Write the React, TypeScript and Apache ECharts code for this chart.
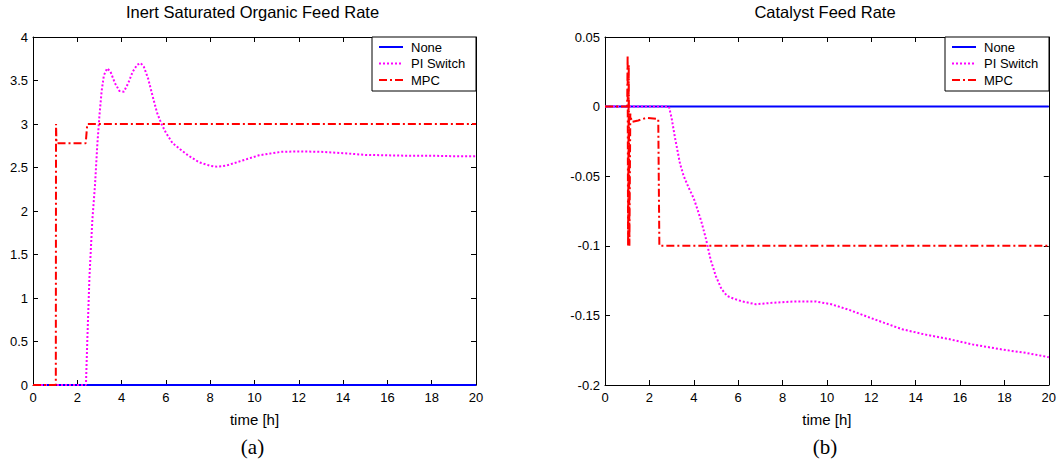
import React, { useEffect, useRef } from "react";
import * as echarts from "echarts";

// ---- data ----
const seriesNames = ["None", "PI Switch", "MPC"];
const xTicks = { min: 0, max: 20, interval: 2 };

// (a) Inert Saturated Organic Feed Rate
const noneA: number[][] = [[0, 0], [20, 0]];
const piA: number[][] = [
  [0, 0], [2.39, 0], [2.45, 0.5], [2.55, 1.25], [2.68, 1.9], [2.8, 2.3], [2.9, 2.75],
  [3.0, 3.1], [3.1, 3.38], [3.2, 3.56], [3.35, 3.64], [3.5, 3.6], [3.7, 3.47], [3.9, 3.38],
  [4.1, 3.37], [4.3, 3.47], [4.5, 3.6], [4.7, 3.68], [4.86, 3.7], [5.0, 3.66], [5.2, 3.52],
  [5.4, 3.32], [5.6, 3.13], [5.8, 3.0], [6.0, 2.9], [6.3, 2.78], [6.64, 2.71], [7.0, 2.64],
  [7.5, 2.56], [8.0, 2.52], [8.3, 2.51], [8.7, 2.52], [9.2, 2.56], [9.7, 2.6], [10.2, 2.64],
  [10.7, 2.66], [11.2, 2.68], [12.0, 2.685], [13.0, 2.68], [14.0, 2.665], [15.0, 2.645],
  [16.0, 2.64], [17.0, 2.635], [18.0, 2.635], [19.0, 2.63], [20, 2.63],
];
const mpcA: number[][] = [
  [0, 0], [1.03, 0], [1.04, 3.0], [1.06, 2.78], [2.38, 2.78], [2.45, 3.0], [20, 3.0],
];

// (b) Catalyst Feed Rate
const noneB: number[][] = [[0, 0], [20, 0]];
const piB: number[][] = [
  [0, 0], [2.88, 0], [3.0, -0.008], [3.15, -0.022], [3.38, -0.041], [3.55, -0.05],
  [3.75, -0.0575], [4.0, -0.066], [4.13, -0.072], [4.35, -0.083], [4.55, -0.095],
  [4.76, -0.11], [5.0, -0.122], [5.25, -0.131], [5.5, -0.136], [5.8, -0.138], [6.2, -0.14],
  [6.8, -0.142], [7.5, -0.141], [8.5, -0.14], [9.5, -0.14], [10.2, -0.142], [11, -0.146],
  [12, -0.152], [13.4, -0.16], [14.5, -0.164], [15.5, -0.167], [16.6, -0.171],
  [18.1, -0.175], [19, -0.177], [20, -0.18],
];
const mpcB: number[][] = [
  [0, 0], [1.0, 0], [1.02, 0.037], [1.04, -0.1], [1.07, 0.03], [1.1, -0.1], [1.14, -0.005],
  [1.2, -0.011], [1.5, -0.01], [1.87, -0.008], [2.4, -0.009], [2.45, -0.1], [20, -0.1],
];

const yA = { min: 0, max: 4, interval: 0.5 };
const yB = { min: -0.2, max: 0.05, interval: 0.05 };

const titles = ["Inert Saturated Organic Feed Rate", "Catalyst Feed Rate"];
const captions = ["(a)", "(b)"];
const xName = "time [h]";

// ---- styles ----
const FONT = "Arial, 'Liberation Sans', sans-serif";
const colors = ["#0000ff", "#ff00ff", "#ff0000"];
const dashes: (number[] | "solid")[] = ["solid", [2, 2], [8, 3, 2, 3]];
const grids = [
  { left: 33, top: 37, width: 443, height: 348 },
  { left: 605, top: 37, width: 444, height: 348 },
];

export default function App() {
  const ref = useRef<HTMLDivElement>(null);
  useEffect(() => {
    if (!ref.current) return;
    const chart = echarts.init(ref.current, null, { renderer: "svg" });

    const axisLine = { show: true, onZero: false, lineStyle: { color: "#000", width: 1 } };
    const axisTick = { show: true, inside: true, length: 5, lineStyle: { color: "#000", width: 1 } };
    const label = { color: "#000", fontFamily: FONT, fontSize: 13 };
    const yFmt = (v: number) => String(parseFloat(v.toFixed(3)));

    const xAxis: any[] = [];
    const yAxis: any[] = [];
    [0, 1].forEach((g) => {
      xAxis.push({
        type: "value", gridIndex: g, position: "bottom", ...xTicks,
        axisLine, axisTick, splitLine: { show: false },
        axisLabel: { ...label, margin: 6 },
        name: xName, nameLocation: "middle", nameGap: 27,
        nameTextStyle: { color: "#000", fontFamily: FONT, fontSize: 15 },
      });
      xAxis.push({
        type: "value", gridIndex: g, position: "top", ...xTicks,
        axisLine, axisTick, splitLine: { show: false }, axisLabel: { show: false },
      });
      const yr = g === 0 ? yA : yB;
      yAxis.push({
        type: "value", gridIndex: g, position: "left", ...yr,
        axisLine, axisTick, splitLine: { show: false },
        axisLabel: { ...label, margin: 5, formatter: yFmt },
      });
      yAxis.push({
        type: "value", gridIndex: g, position: "right", ...yr,
        axisLine, axisTick, splitLine: { show: false }, axisLabel: { show: false },
      });
    });

    const dataSets = [
      [noneA, piA, mpcA],
      [noneB, piB, mpcB],
    ];
    const series: any[] = [];
    dataSets.forEach((sets, g) => {
      sets.forEach((d, i) => {
        series.push({
          type: "line", name: seriesNames[i], data: d,
          xAxisIndex: g * 2, yAxisIndex: g * 2,
          symbol: "none", showSymbol: false, clip: true,
          lineStyle: { color: colors[i], width: 2, type: dashes[i] },
          z: 2 + i,
        });
      });
    });

    const graphic: any[] = [];
    grids.forEach((gr, g) => {
      const cx = gr.left + gr.width / 2 - 2;
      graphic.push({
        type: "text", x: cx, y: 12,
        style: { text: titles[g], fill: "#000", font: `16.5px ${FONT}`, textAlign: "center", textVerticalAlign: "middle" },
      });
      graphic.push({
        type: "text", x: cx, y: 447,
        style: { text: captions[g], fill: "#000", font: `21px 'Liberation Serif', 'Times New Roman', serif`, textAlign: "center", textVerticalAlign: "middle" },
      });
      // legend box
      const right = gr.left + gr.width;
      const bx = right - 104;
      graphic.push({
        type: "rect", shape: { x: bx, y: gr.top, width: 104, height: 54 }, z: 10,
        style: { fill: "#fff", stroke: "#000", lineWidth: 1 },
      });
      seriesNames.forEach((n, i) => {
        const yy = gr.top + 10 + i * 16.5;
        graphic.push({
          type: "line", z: 11,
          shape: { x1: bx + 7, y1: yy, x2: bx + 31, y2: yy },
          style: { stroke: colors[i], lineWidth: 2, lineDash: dashes[i] === "solid" ? null : dashes[i] },
        });
        graphic.push({
          type: "text", x: bx + 39, y: yy, z: 11,
          style: { text: n, fill: "#000", font: `13px ${FONT}`, textVerticalAlign: "middle" },
        });
      });
    });

    chart.setOption({
      animation: false,
      backgroundColor: "#fff",
      grid: grids.map((g) => ({ ...g, containLabel: false, show: false })),
      xAxis, yAxis, series, graphic,
    });
    return () => chart.dispose();
  }, []);

  return (
    <div
      ref={ref}
      style={{ position: "fixed", left: 0, top: 0, width: 1059, height: 466, background: "#fff" }}
    />
  );
}
